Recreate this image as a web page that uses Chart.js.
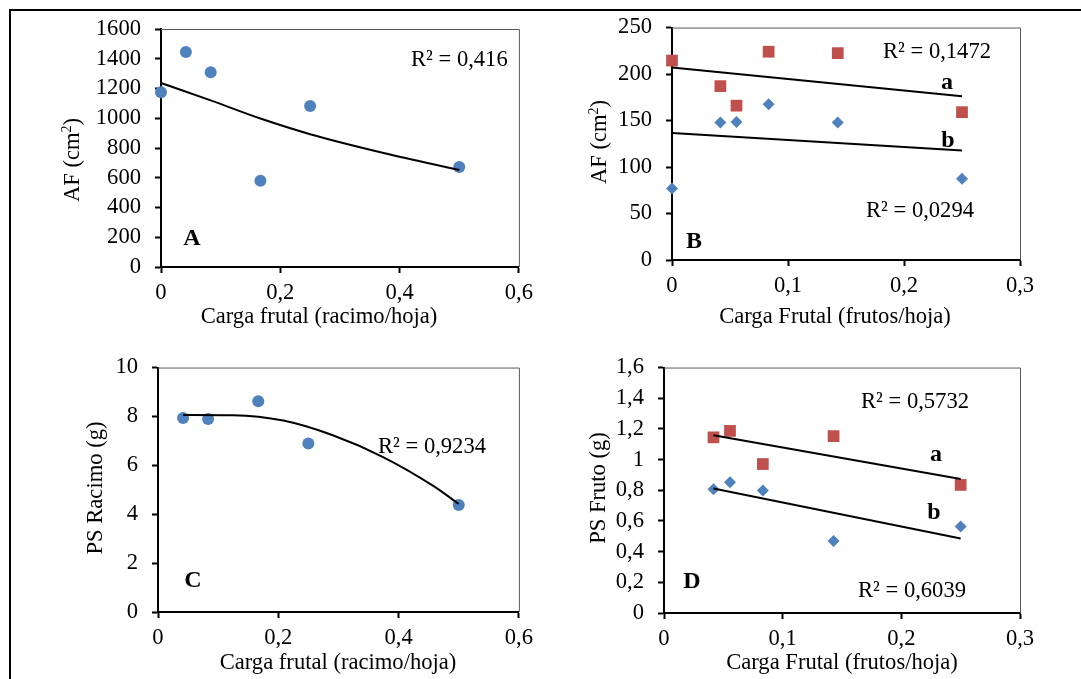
<!DOCTYPE html>
<html lang="es">
<head>
<meta charset="UTF-8">
<title>Carga frutal: AF y PS</title>
<script src="https://cdn.jsdelivr.net/npm/chart.js"></script>
<style>
  html, body { margin: 0; padding: 0; background: #fff; }
  body { width: 1081px; height: 679px; position: relative; overflow: hidden; }
  .frame {
    position: absolute; left: 9px; top: 9px; right: 0; bottom: 0;
    border-top: 2px solid #000; border-left: 2px solid #000;
  }
  canvas { position: absolute; }
</style>
</head>
<body>
<div class="frame"></div>
<canvas id="chartA" width="540" height="340" style="left:0;top:0"></canvas>
<canvas id="chartB" width="541" height="340" style="left:540px;top:0"></canvas>
<canvas id="chartC" width="540" height="339" style="left:0;top:340px"></canvas>
<canvas id="chartD" width="541" height="339" style="left:540px;top:340px"></canvas>

<script>
const FONT = "'Liberation Serif', 'Times New Roman', serif";
const FS = 22.6;
const BLUE = '#4F81BD';
const RED = '#C0504D';

// A - leaf area vs bunch load
const cargaA = [0, 0.0417, 0.0833, 0.1667, 0.25, 0.5];
const afA = [1174, 1445, 1310, 580, 1083, 673];
const trendAx = [0, 0.0833, 0.1667, 0.25, 0.375, 0.5];
const trendAy = [1237, 1120, 998, 893, 765, 652];
const ticksAx = [0, 0.2, 0.4, 0.6];
const ticksAy = [0, 200, 400, 600, 800, 1000, 1200, 1400, 1600];

// B - leaf area vs fruit load, two groups
const cargaB = [0, 0.0417, 0.0556, 0.0833, 0.1429, 0.25];
const afBa = [214.5, 187, 166, 224, 222.5, 159];
const afBb = [77, 148, 148.5, 167.5, 148, 87.5];
const trendBx = [0, 0.25];
const trendBa = [207, 176.2];
const trendBb = [136.7, 117.9];
const ticksBx = [0, 0.1, 0.2, 0.3];
const ticksBy = [0, 50, 100, 150, 200, 250];

// C - bunch dry weight vs bunch load
const cargaC = [0.0417, 0.0833, 0.1667, 0.25, 0.5];
const psRacimo = [7.94, 7.9, 8.62, 6.89, 4.38];
const trendCx = [0.0417, 0.125, 0.2083, 0.2917, 0.375, 0.4583, 0.5];
const trendCy = [8.06, 8.05, 7.83, 7.22, 6.33, 5.15, 4.42];
const ticksCx = [0, 0.2, 0.4, 0.6];
const ticksCy = [0, 2, 4, 6, 8, 10];

// D - fruit dry weight vs fruit load, two groups
const cargaD = [0.0417, 0.0556, 0.0833, 0.1429, 0.25];
const psFrutoA = [1.145, 1.187, 0.971, 1.153, 0.835];
const psFrutoB = [0.807, 0.852, 0.799, 0.469, 0.564];
const trendDx = [0.0417, 0.25];
const trendDa = [1.159, 0.873];
const trendDb = [0.812, 0.486];
const ticksDx = [0, 0.1, 0.2, 0.3];
const ticksDy = [0, 0.2, 0.4, 0.6, 0.8, 1, 1.2, 1.4, 1.6];

const pts = (xs, ys) => xs.map((x, i) => ({ x, y: ys[i] }));
const fmt = v => String(+v.toFixed(3)).replace('.', ',');

function markers(xs, ys, color, style, radius) {
  return {
    data: pts(xs, ys), showLine: false, clip: false,
    pointStyle: style, pointRadius: radius,
    pointBackgroundColor: color, pointBorderColor: color, pointBorderWidth: 0
  };
}

function trend(xs, ys, curved) {
  return {
    data: pts(xs, ys), showLine: true, clip: false,
    borderColor: '#000', borderWidth: 2, pointRadius: 0, fill: false,
    tension: 0, cubicInterpolationMode: curved ? 'monotone' : 'default'
  };
}

function axis(ticks, dir, size) {
  return {
    type: 'linear',
    min: ticks[0], max: ticks[ticks.length - 1],
    afterBuildTicks: s => { s.ticks = ticks.map(v => ({ value: v })); },
    afterFit: s => { if (dir === 'x') s.height = size; else s.width = size; },
    grid: { drawOnChartArea: false, drawTicks: true, tickLength: 6, tickWidth: 2, tickColor: '#000' },
    border: { display: true, color: '#000', width: 2 },
    ticks: {
      color: '#000', font: { family: FONT, size: FS },
      padding: dir === 'x' ? 7 : 14, maxRotation: 0, autoSkip: false,
      callback: v => fmt(v)
    }
  };
}

// thin grey lines closing the plot box on top and right
const framePlugin = {
  id: 'plotFrame',
  beforeDatasetsDraw(chart) {
    const { ctx, chartArea: a } = chart;
    ctx.save();
    ctx.strokeStyle = '#595959';
    ctx.lineWidth = 1;
    ctx.beginPath();
    ctx.moveTo(a.left, a.top + 0.5);
    ctx.lineTo(a.right + 0.5, a.top + 0.5);
    ctx.lineTo(a.right + 0.5, a.bottom);
    ctx.stroke();
    ctx.restore();
  }
};

// axis titles, R² notes and panel letters (x, y = baseline anchor)
const textPlugin = {
  id: 'panelText',
  afterDraw(chart, args, opts) {
    const ctx = chart.ctx;
    for (const it of opts.items) {
      const size = it.size || FS;
      const parts = it.parts || [[it.text]];
      const fontFor = sup => `${it.bold ? 'bold ' : ''}${sup ? Math.round(size * 0.64) : size}px ${FONT}`;
      ctx.save();
      ctx.fillStyle = '#000';
      ctx.translate(it.x, it.y);
      if (it.rot) ctx.rotate(-Math.PI / 2);
      ctx.textBaseline = 'alphabetic';
      ctx.textAlign = 'left';
      let total = 0;
      for (const [t, sup] of parts) { ctx.font = fontFor(sup); total += ctx.measureText(t).width; }
      let x = it.align === 'center' ? -total / 2 : (it.align === 'right' ? -total : 0);
      for (const [t, sup] of parts) {
        ctx.font = fontFor(sup);
        ctx.fillText(t, x, sup ? -size * 0.36 : 0);
        x += ctx.measureText(t).width;
      }
      ctx.restore();
    }
  }
};

function panel(id, area, xTicks, yTicks, datasets, items) {
  const canvas = document.getElementById(id);
  return new Chart(canvas, {
    type: 'scatter',
    data: { datasets },
    options: {
      responsive: false, animation: false, events: [],
      layout: { padding: { left: 0, top: area.top, right: canvas.width - area.right, bottom: 0 } },
      plugins: {
        legend: { display: false }, tooltip: { enabled: false },
        panelText: { items }
      },
      scales: {
        x: axis(xTicks, 'x', canvas.height - area.bottom),
        y: axis(yTicks, 'y', area.left)
      }
    },
    plugins: [framePlugin, textPlugin]
  });
}

const afTitle = [['AF (cm'], ['2', true], [')']];

panel('chartA', { left: 161, top: 29, right: 523, bottom: 267 }, ticksAx, ticksAy, [
  trend(trendAx, trendAy, true),
  markers(cargaA, afA, BLUE, 'circle', 6)
], [
  { x: 79, y: 160, rot: true, align: 'center', parts: afTitle },
  { x: 319, y: 323, align: 'center', text: 'Carga frutal (racimo/hoja)' },
  { x: 411, y: 66, text: 'R² = 0,416' },
  { x: 192, y: 245, align: 'center', bold: true, size: 24, text: 'A' }
]);

panel('chartB', { left: 132, top: 24, right: 480, bottom: 260 }, ticksBx, ticksBy, [
  trend(trendBx, trendBa, false),
  trend(trendBx, trendBb, false),
  markers(cargaB, afBa, RED, 'rect', 8.3),
  markers(cargaB, afBb, BLUE, 'rectRot', 6)
], [
  { x: 66, y: 142, rot: true, align: 'center', parts: afTitle },
  { x: 295, y: 323, align: 'center', text: 'Carga Frutal (frutos/hoja)' },
  { x: 343, y: 58, text: 'R² = 0,1472' },
  { x: 407, y: 89, align: 'center', bold: true, size: 24, text: 'a' },
  { x: 408, y: 147, align: 'center', bold: true, size: 24, text: 'b' },
  { x: 326, y: 217, text: 'R² = 0,0294' },
  { x: 154, y: 248, align: 'center', bold: true, size: 24, text: 'B' }
]);

panel('chartC', { left: 158, top: 22, right: 519, bottom: 272 }, ticksCx, ticksCy, [
  trend(trendCx, trendCy, true),
  markers(cargaC, psRacimo, BLUE, 'circle', 6)
], [
  { x: 102, y: 148, rot: true, align: 'center', text: 'PS Racimo (g)' },
  { x: 338, y: 329, align: 'center', text: 'Carga frutal (racimo/hoja)' },
  { x: 378, y: 113, text: 'R² = 0,9234' },
  { x: 193, y: 247, align: 'center', bold: true, size: 24, text: 'C' }
]);

panel('chartD', { left: 124, top: 21, right: 480, bottom: 273 }, ticksDx, ticksDy, [
  trend(trendDx, trendDa, false),
  trend(trendDx, trendDb, false),
  markers(cargaD, psFrutoA, RED, 'rect', 8.3),
  markers(cargaD, psFrutoB, BLUE, 'rectRot', 6)
], [
  { x: 65, y: 148, rot: true, align: 'center', text: 'PS Fruto (g)' },
  { x: 302, y: 329, align: 'center', text: 'Carga Frutal (frutos/hoja)' },
  { x: 321, y: 68, text: 'R² = 0,5732' },
  { x: 396, y: 121, align: 'center', bold: true, size: 24, text: 'a' },
  { x: 394, y: 179, align: 'center', bold: true, size: 24, text: 'b' },
  { x: 318, y: 257, text: 'R² = 0,6039' },
  { x: 152, y: 248, align: 'center', bold: true, size: 24, text: 'D' }
]);
</script>
</body>
</html>
